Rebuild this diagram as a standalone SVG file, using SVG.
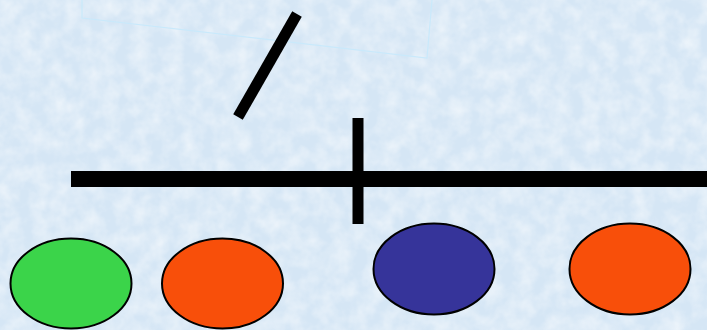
<svg xmlns="http://www.w3.org/2000/svg" width="707" height="330" viewBox="0 0 707 330">
<defs>
<filter id="tex" x="0" y="0" width="100%" height="100%">
<feTurbulence type="fractalNoise" baseFrequency="0.06" numOctaves="3" seed="4" result="n"/>
<feColorMatrix in="n" type="matrix" values="0 0 0 0 1  0 0 0 0 1  0 0 0 0 1  0 0 0 -1.6 1.1" result="w"/>
<feComposite in="w" in2="SourceGraphic" operator="in"/>
</filter>
<style>
.bar{stroke:#000;fill:none}
.dot{stroke:#000;stroke-width:2}
</style>
</defs>
<rect width="707" height="330" fill="#d5e6f5"/>
<rect width="707" height="330" fill="#d5e6f5" filter="url(#tex)" opacity="0.55"/>
<polyline points="82,0 82,18 427,58 432,0" fill="none" stroke="#c9e9fb" stroke-width="1.2"/>
<g id="lines">
<line class="bar" x1="71" y1="179" x2="707" y2="179" stroke-width="16"/>
<line class="bar" x1="358" y1="118" x2="358" y2="224" stroke-width="11"/>
<line class="bar" x1="297" y1="14" x2="238" y2="117" stroke-width="11"/>
</g>
<g id="green"><ellipse class="dot" cx="71" cy="283.5" rx="60.5" ry="45" fill="#3bd44a"/></g>
<g id="orange1"><ellipse class="dot" cx="222.5" cy="283.5" rx="60.5" ry="45" fill="#f84f0a"/></g>
<g id="blue"><ellipse class="dot" cx="434" cy="269" rx="60.5" ry="45.5" fill="#36349a"/></g>
<g id="orange2"><ellipse class="dot" cx="630" cy="269" rx="60.5" ry="45.5" fill="#f84f0a"/></g>
</svg>
